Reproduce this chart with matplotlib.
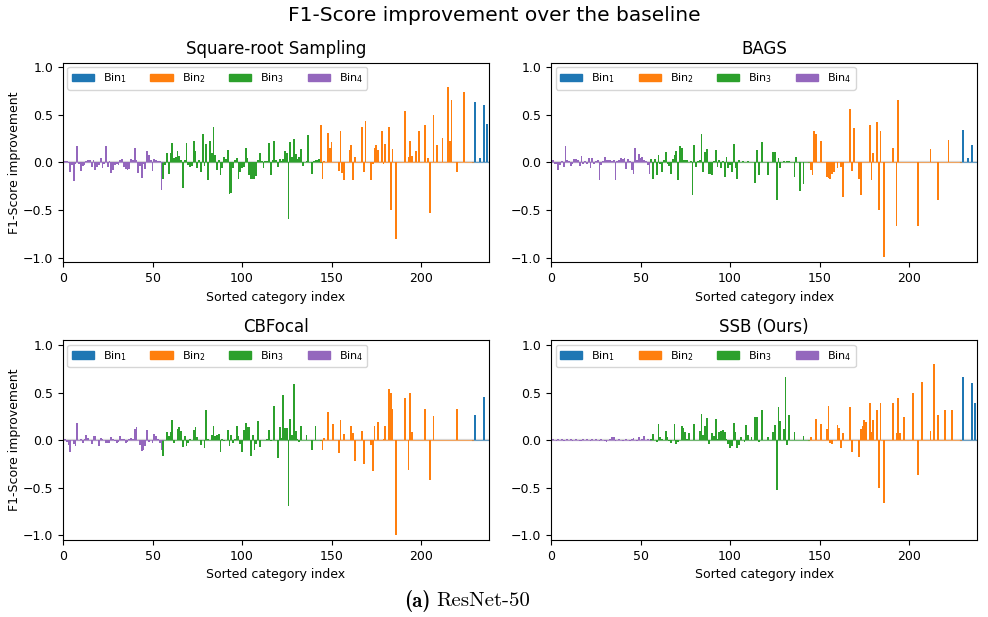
import numpy as np
import matplotlib
matplotlib.use("Agg")
import matplotlib.pyplot as plt
from matplotlib.patches import Patch

# bins (sorted category index ranges), Bin4 = rarest ... Bin1 = most frequent
bin_names = ["Bin$_1$", "Bin$_2$", "Bin$_3$", "Bin$_4$"]
bin_colors = ["tab:blue", "tab:orange", "tab:green", "tab:purple"]
bin_ranges = [(229, 238), (144, 229), (56, 144), (0, 56)]

titles = ["Square-root Sampling", "BAGS", "CBFocal", "SSB (Ours)"]

sqrt_vals = [
    0.02, 0.01, 0.01, -0.01, -0.10, -0.03, -0.20, -0.02, 0.17, -0.02,
    -0.09, -0.04, -0.03, 0.01, 0.02, 0.03, -0.05, 0.02, -0.08, -0.05,
    -0.03, 0.05, -0.06, -0.02, 0.17, -0.05, 0.01, -0.11, -0.08, -0.03,
    -0.02, -0.03, 0.03, 0.04, -0.05, -0.07, -0.08, -0.07, 0.04, 0.02,
    0.15, 0.03, -0.11, -0.04, -0.16, -0.02, -0.07, 0.12, 0.08, 0.02,
    -0.09, 0.04, 0.02, 0.01, 0.01, -0.29, -0.17, -0.03, 0.10, -0.12,
    0.10, 0.20, 0.05, 0.06, 0.12, 0.07, 0.02, -0.27, 0.02, 0.20,
    -0.03, -0.05, -0.04, 0.23, 0.12, -0.06, 0.02, -0.10, 0.30, -0.04,
    0.19, -0.18, 0.23, 0.10, 0.37, 0.08, -0.08, 0.02, -0.13, -0.06,
    0.06, 0.04, 0.13, -0.33, -0.32, -0.06, 0.02, 0.05, -0.17, -0.10,
    -0.06, -0.05, 0.15, 0.05, -0.13, -0.17, -0.17, -0.17, -0.14, 0.03,
    0.10, 0.01, -0.06, 0.01, 0.01, 0.20, -0.13, 0.02, 0.22, 0.02,
    -0.05, 0.04, 0.01, 0.04, 0.12, 0.10, -0.60, 0.21, 0.06, 0.25,
    0.09, 0.04, 0.06, 0.14, -0.04, 0.00, 0.01, 0.29, 0.00, -0.12,
    0.01, 0.02, 0.03, 0.04, 0.39, -0.17, 0.01, 0.00, 0.31, 0.15,
    0.21, 0.00, 0.00, 0.00, -0.09, 0.33, -0.11, -0.18, 0.00, 0.00,
    0.13, 0.18, -0.19, 0.06, 0.00, 0.00, 0.00, 0.37, -0.10, 0.43,
    0.00, 0.00, -0.19, -0.02, 0.15, 0.18, 0.13, 0.00, 0.33, -0.02,
    0.19, 0.00, 0.37, -0.50, 0.14, 0.00, -0.80, 0.00, 0.00, 0.00,
    0.00, 0.54, 0.00, 0.06, 0.22, 0.07, 0.00, 0.12, 0.00, 0.33,
    0.00, 0.00, 0.39, 0.00, 0.05, -0.53, 0.00, 0.50, 0.00, 0.18,
    0.00, 0.00, 0.26, 0.00, 0.00, 0.79, 0.22, 0.66, 0.00, 0.00,
    -0.10, 0.00, 0.00, 0.00, 0.74, 0.00, 0.00, 0.00, 0.00, 0.00,
    0.63, 0.00, 0.00, 0.05, 0.00, 0.60, 0.00, 0.40,
]

bags_vals = [
    0.02, 0.02, -0.02, -0.02, -0.08, -0.03, 0.01, -0.05, 0.17, 0.03,
    0.01, -0.04, -0.02, 0.04, 0.04, 0.02, -0.04, 0.07, -0.02, 0.01,
    -0.02, 0.05, -0.06, 0.05, -0.02, 0.01, 0.03, -0.18, -0.03, 0.01,
    0.06, 0.02, 0.03, 0.03, 0.01, 0.02, -0.19, 0.01, 0.02, 0.05,
    0.04, 0.05, -0.07, 0.04, 0.01, -0.08, -0.12, 0.15, 0.03, 0.09,
    0.05, 0.06, 0.03, 0.01, -0.03, -0.12, 0.04, -0.17, 0.04, -0.13,
    0.08, -0.02, -0.10, 0.02, 0.11, -0.02, -0.04, -0.12, 0.04, 0.08,
    0.12, -0.19, 0.17, 0.15, 0.02, 0.02, 0.03, 0.00, 0.01, -0.34,
    0.18, -0.05, 0.01, 0.02, 0.30, -0.10, 0.11, 0.14, -0.12, -0.12,
    -0.13, 0.01, 0.13, -0.05, 0.02, -0.06, 0.01, -0.15, 0.06, -0.06,
    -0.03, -0.10, 0.19, -0.06, -0.17, 0.03, 0.00, 0.01, 0.00, 0.00,
    0.01, 0.00, 0.00, 0.00, -0.22, 0.13, -0.13, 0.00, 0.21, 0.00,
    0.00, -0.13, 0.00, 0.00, 0.11, 0.11, -0.40, 0.05, -0.06, 0.00,
    0.01, 0.00, 0.01, 0.01, 0.00, 0.00, -0.15, 0.06, 0.00, -0.30,
    0.00, -0.23, 0.00, 0.00, 0.00, -0.08, -0.13, 0.33, 0.30, 0.00,
    0.00, 0.23, 0.00, 0.00, -0.15, -0.16, -0.17, -0.12, -0.10, 0.00,
    -0.06, 0.00, -0.05, -0.36, 0.00, 0.00, 0.00, 0.56, -0.09, 0.36,
    0.00, 0.00, -0.17, -0.34, 0.00, 0.00, 0.00, 0.00, 0.39, -0.18,
    0.10, 0.00, 0.42, -0.50, 0.33, 0.00, -0.99, 0.00, 0.00, 0.00,
    0.00, 0.15, 0.00, -0.67, 0.66, 0.00, 0.00, 0.00, 0.00, 0.00,
    0.00, 0.00, 0.00, 0.00, 0.00, -0.67, 0.00, 0.00, 0.00, 0.00,
    0.00, 0.00, 0.14, 0.00, 0.00, 0.00, -0.40, 0.00, 0.00, 0.00,
    0.00, 0.00, 0.24, 0.00, 0.00, 0.00, 0.00, 0.00, 0.00, 0.00,
    0.34, 0.00, 0.00, 0.05, 0.00, 0.18, 0.00, 0.00,
]

cbfocal_vals = [
    0.01, 0.01, -0.02, -0.05, -0.12, 0.00, -0.04, -0.06, 0.18, 0.00,
    0.01, -0.03, 0.01, 0.05, 0.02, 0.00, -0.04, 0.04, 0.04, 0.00,
    -0.06, 0.02, 0.01, 0.00, -0.03, -0.03, -0.03, 0.03, 0.01, -0.01,
    -0.03, -0.02, 0.04, 0.01, 0.01, -0.03, -0.02, 0.01, 0.02, 0.01,
    0.12, 0.14, 0.00, -0.05, -0.11, -0.10, -0.06, 0.11, -0.02, 0.00,
    -0.03, 0.06, 0.04, 0.01, -0.03, -0.10, -0.17, 0.00, 0.08, 0.04,
    0.09, 0.21, -0.03, 0.00, 0.12, 0.14, 0.10, -0.07, 0.04, -0.06,
    -0.03, 0.01, 0.00, 0.11, 0.14, 0.03, 0.00, -0.05, 0.00, -0.08,
    0.32, 0.01, 0.00, 0.05, 0.15, 0.04, 0.05, 0.06, -0.12, 0.01,
    -0.01, 0.00, 0.11, -0.06, 0.05, -0.03, 0.01, 0.15, 0.04, -0.04,
    -0.12, 0.11, 0.18, 0.14, 0.14, -0.17, 0.05, -0.10, -0.04, 0.20,
    -0.07, 0.00, 0.00, 0.00, 0.01, 0.11, -0.01, 0.00, 0.36, 0.00,
    -0.19, 0.14, 0.02, 0.47, 0.13, 0.13, -0.69, 0.22, 0.05, 0.59,
    0.10, 0.01, -0.02, 0.15, 0.00, 0.00, 0.05, 0.00, 0.00, -0.10,
    0.00, 0.15, 0.00, 0.00, 0.00, -0.10, 0.02, 0.00, 0.30, 0.00,
    0.00, 0.17, 0.00, 0.00, -0.14, 0.21, 0.00, 0.06, 0.00, 0.00,
    0.00, 0.15, 0.07, -0.22, 0.00, 0.00, 0.00, 0.10, -0.25, 0.00,
    0.00, 0.00, -0.05, -0.32, 0.15, 0.00, 0.19, 0.00, 0.00, 0.01,
    0.15, 0.00, 0.54, 0.50, 0.33, 0.00, -1.00, 0.00, 0.00, 0.00,
    0.00, 0.44, 0.00, -0.31, 0.49, 0.08, 0.00, 0.00, 0.00, 0.00,
    0.00, 0.00, 0.33, 0.00, 0.00, -0.42, 0.00, 0.25, 0.00, 0.00,
    0.00, 0.00, 0.00, 0.00, 0.00, 0.00, 0.00, 0.00, 0.00, 0.00,
    0.33, 0.00, 0.00, 0.00, 0.00, 0.00, 0.00, 0.00, 0.00, 0.00,
    0.26, 0.00, 0.00, 0.00, 0.00, 0.45, 0.00, 0.00,
]

ssb_vals = [
    0.01, 0.01, 0.00, -0.01, 0.01, 0.00, 0.01, -0.01, 0.00, 0.01,
    0.00, 0.01, -0.01, 0.00, 0.01, 0.00, -0.01, -0.01, 0.01, 0.00,
    0.01, 0.00, -0.01, 0.01, 0.00, 0.01, 0.00, -0.01, 0.01, 0.00,
    -0.01, -0.02, 0.00, 0.01, 0.03, 0.03, -0.01, 0.00, 0.01, 0.00,
    -0.01, 0.00, 0.01, 0.00, -0.01, 0.01, 0.02, 0.00, -0.01, 0.03,
    0.00, 0.01, 0.04, 0.00, 0.01, 0.00, 0.01, 0.06, 0.00, -0.02,
    0.17, 0.03, 0.01, 0.00, 0.10, 0.03, -0.01, -0.03, 0.00, 0.17,
    -0.04, -0.02, 0.00, 0.15, 0.13, 0.08, 0.01, 0.07, 0.00, 0.00,
    0.17, 0.00, 0.00, 0.10, 0.27, 0.05, 0.15, 0.23, -0.04, 0.00,
    0.07, 0.04, 0.22, 0.01, 0.08, 0.10, 0.11, 0.09, 0.01, -0.04,
    -0.08, -0.06, 0.18, 0.08, -0.08, -0.05, 0.03, 0.00, -0.02, 0.16,
    0.05, 0.00, 0.03, 0.00, 0.24, 0.24, -0.02, 0.00, 0.32, 0.00,
    0.00, 0.03, 0.00, 0.00, 0.09, 0.16, -0.52, 0.35, 0.20, 0.00,
    0.12, 0.66, -0.05, 0.26, 0.00, 0.00, 0.08, 0.00, 0.00, 0.00,
    0.00, 0.04, 0.00, 0.00, 0.00, 0.03, 0.00, 0.00, 0.22, 0.00,
    0.00, 0.17, 0.00, 0.00, 0.12, 0.36, -0.03, -0.04, 0.00, 0.00,
    0.16, 0.13, -0.08, 0.07, 0.00, 0.00, 0.00, 0.35, -0.13, 0.00,
    0.00, 0.00, -0.18, 0.12, 0.15, 0.21, 0.19, 0.00, 0.39, 0.09,
    0.21, 0.00, 0.32, -0.50, 0.39, 0.00, -0.66, 0.00, 0.00, 0.00,
    0.00, 0.39, 0.00, 0.07, 0.44, 0.07, 0.00, 0.24, 0.00, 0.00,
    0.00, 0.00, 0.49, 0.00, 0.00, -0.37, 0.00, 0.61, 0.00, 0.00,
    0.00, 0.00, 0.10, 0.00, 0.80, 0.00, 0.26, 0.00, 0.00, 0.00,
    0.32, 0.00, 0.00, 0.00, 0.32, 0.00, 0.00, 0.00, 0.00, 0.00,
    0.66, 0.00, 0.00, 0.00, 0.00, 0.60, 0.00, 0.39,
]

all_vals = [sqrt_vals, bags_vals, cbfocal_vals, ssb_vals]

fig, axes = plt.subplots(2, 2, figsize=(9.88, 6.17), dpi=100)
fig.subplots_adjust(left=0.0638, right=0.989, top=0.8987, bottom=0.1248,
                    wspace=0.1455, hspace=0.39)

for k, ax in enumerate(axes.flat):
    vals = np.array(all_vals[k])
    idx = np.arange(len(vals))
    ax.axhline(0, color="#d9d9d9", lw=1.6, zorder=1)
    for name, col, (a, b) in zip(bin_names, bin_colors, bin_ranges):
        ax.bar(idx[a:b], vals[a:b], width=1.0, color=col, zorder=2)
        ax.plot([a - 0.5, b], [0, 0], color=col, lw=0.8, alpha=0.6, zorder=2)
    ax.set_xlim(0, len(vals))
    ax.set_ylim(-1.05, 1.05)
    ax.set_xticks([0, 50, 100, 150, 200])
    ax.set_yticks([-1.0, -0.5, 0.0, 0.5, 1.0])
    ax.tick_params(labelsize=9)
    ax.set_title(titles[k], fontsize=12)
    ax.set_xlabel("Sorted category index", fontsize=9)
    if k % 2 == 0:
        ax.set_ylabel("F1-Score improvement", fontsize=9, labelpad=1)
    handles = [Patch(color=c) for c in bin_colors]
    ax.legend(handles, bin_names, loc="upper left", ncol=4, fontsize=8,
              borderaxespad=0.4, columnspacing=2.1)

fig.suptitle("F1-Score improvement over the baseline", fontsize=14.5, y=0.99)
fig.text(0.436, 0.026, "(a)", family="cmb10", fontsize=15, ha="right", va="center")
fig.text(0.442, 0.026, "ResNet-50", family="cmr10", fontsize=15, ha="left", va="center")

fig.savefig("out.png")
